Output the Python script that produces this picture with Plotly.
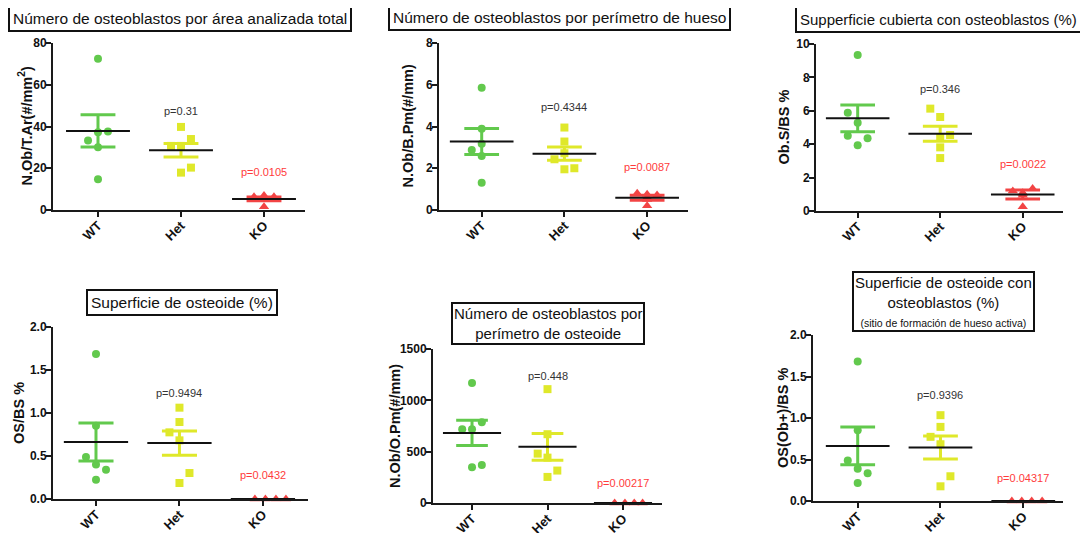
import plotly.graph_objects as go

groups = ["WT", "Het", "KO"]

# ---- data ----
p1_wt = [72.5, 37.3, 33.3, 37.6, 30.1, 14.7]
p1_het = [39.8, 34.0, 30.7, 30.7, 20.3, 17.9]
p1_ko = [6.3, 6.9, 6.3, 5.6, 5.2, 1.6]
p1_mean = [37.9, 28.6, 5.3]
p1_sem = [7.7, 3.2, 0.9]
p1_pval = ["p=0.31", "p=0.0105"]
p1_py = [47.5, 18.4]

p2_wt = [5.86, 3.89, 2.88, 3.17, 2.59, 1.31]
p2_het = [3.95, 3.28, 2.72, 2.43, 1.95, 2.0]
p2_ko = [0.8, 0.75, 0.72, 0.6, 0.5, 0.2]
p2_mean = [3.28, 2.70, 0.59]
p2_sem = [0.62, 0.32, 0.12]
p2_pval = ["p=0.4344", "p=0.0087"]
p2_py = [4.93, 2.05]

p3_wt = [9.34, 5.89, 5.29, 4.51, 4.35, 3.93]
p3_het = [6.13, 5.63, 4.55, 4.41, 3.81, 3.17]
p3_ko = [1.2, 1.1, 1.35, 1.05, 0.95, 0.25]
p3_mean = [5.55, 4.63, 0.99]
p3_sem = [0.8, 0.45, 0.27]
p3_pval = ["p=0.346", "p=0.0022"]
p3_py = [7.29, 2.79]

p4_wt = [1.686, 0.853, 0.488, 0.40, 0.341, 0.225]
p4_het = [1.062, 0.895, 0.775, 0.682, 0.302, 0.186]
p4_ko = [0, 0, 0, 0]
p4_mean = [0.663, 0.651, 0]
p4_sem = [0.222, 0.141, 0]
p4_pval = ["p=0.9494", "p=0.0432"]
p4_py = [1.233, 0.283]

p5_wt = [1168, 787, 719, 719, 371, 348]
p5_het = [1109, 670, 481, 442, 316, 254]
p5_ko = [0, 0, 0, 0]
p5_mean = [683, 547, 0]
p5_sem = [123, 130, 0]
p5_pval = ["p=0.448", "p=0.00217"]
p5_py = [1237, 195]

p6_wt = [1.682, 0.853, 0.487, 0.39, 0.334, 0.217]
p6_het = [1.034, 0.893, 0.773, 0.684, 0.298, 0.177]
p6_ko = [0, 0, 0, 0]
p6_mean = [0.664, 0.644, 0]
p6_sem = [0.227, 0.139, 0]
p6_pval = ["p=0.9396", "p=0.04317"]
p6_py = [1.276, 0.278]

titles = [
    "Número de osteoblastos por área analizada total",
    "Número de osteoblastos por perímetro de hueso",
    "Supperficie cubierta con osteoblastos (%)",
    "Superficie de osteoide (%)",
    "Número de osteoblastos por<br>perímetro de osteoide",
    "Superficie de osteoide con<br>osteoblastos (%)<br><span style='font-size:10.5px'>(sitio de formación de hueso activa)</span>",
]
ytitles = [
    "N.Ob/T.Ar(#/mm<sup>2</sup>)",
    "N.Ob/B.Pm(#/mm)",
    "Ob.S/BS %",
    "OS/BS %",
    "N.Ob/O.Pm(#/mm)",
    "OS(Ob+)/BS %",
]

# ---- layout / style (not data) ----
OFF = 8                      # page body margin of the browser
W, H = 1088 - OFF, 533 - OFF
COLORS = ["#62c94d", "#dfe82a", "#f24444"]
SYMBOLS = ["circle", "square", "triangle-up"]
# plot area in target-page pixels: x0, x1, ytop, ybottom
boxes = [
    (53, 305, 43, 210), (439, 688, 43, 210), (816, 1063, 44, 211),
    (53, 308, 327, 499), (433, 662, 349, 503), (813, 1063, 335, 501),
]
xranges = [(-0.542, 2.494), (-0.516, 2.494), (-0.505, 2.488),
           (-0.515, 2.54), (-0.517, 2.517), (-0.54, 2.48)]
yranges = [(0, 80), (0, 8), (0, 10), (0, 2), (0, 1500), (0, 2)]
ydticks = [20, 2, 2, 0.5, 500, 0.5]
yformats = ["", "", "", ".1f", "", ".1f"]
title_pos = [(180, 18), (559, 17.5), (938, 19.5), (181.5, 302.5), (547.5, 323), (943.5, 301)]
title_size = [15.5, 15.5, 15, 15.5, 15, 15]
title_pad = [3, 3, 3, 3, 1, 1]
ytitle_x = [25, 407, 783, 19, 395, 783]
jit = [0.12, 0.12, 0.12, 0.12, 0.13, 0.12]
off_wt = [
    [0, 0, -1, 1, 0, 0], [0, 0, -1, 0, 0, 0], [0, -1, 0, -1, 1, 0],
    [0, 0, -1, 0, 1, 0], [0, 1, -1, 0, 1, 0], [0, 0, -1, 0, 1, 0],
]
off_het = [
    [0, 1, -1, 0, 1, 0], [0, 0, 0, -1, 0, 1], [-1, 0, 1, 0, 0, 0],
    [0, 0, -1, 0, 1, 0], [0, 0, -1, 0, 1, 0], [0, 0, -1, 0, 1, 0],
]
off_ko = [
    [-1, 0, 1, 0, 0, 0], [-1, 0, 1, 0, 0, 0], [-1, 0, 1, 0, 0, 0],
    [-0.8, 0.25, 1.3, 2.3], [-0.85, 0.2, 1.15, 2.0], [-1.15, -0.15, 0.85, 1.9],
]

panels = [
    (p1_wt, p1_het, p1_ko, p1_mean, p1_sem, p1_pval, p1_py),
    (p2_wt, p2_het, p2_ko, p2_mean, p2_sem, p2_pval, p2_py),
    (p3_wt, p3_het, p3_ko, p3_mean, p3_sem, p3_pval, p3_py),
    (p4_wt, p4_het, p4_ko, p4_mean, p4_sem, p4_pval, p4_py),
    (p5_wt, p5_het, p5_ko, p5_mean, p5_sem, p5_pval, p5_py),
    (p6_wt, p6_het, p6_ko, p6_mean, p6_sem, p6_pval, p6_py),
]


def px(x):
    return (x - OFF) / W


def py_(y):
    return 1 - (y - OFF) / H


FONT = "Liberation Sans, Arial, sans-serif"
fig = go.Figure()
annotations = []
layout = {}

for i, (wt, het, ko, mean, sem, pval, pvy) in enumerate(panels):
    n = i + 1
    xa = "x" if n == 1 else f"x{n}"
    ya = "y" if n == 1 else f"y{n}"
    x0, x1, yt, yb = boxes[i]
    layout[f"xaxis{'' if n == 1 else n}"] = dict(
        domain=[px(x0), px(x1)], anchor=ya, range=list(xranges[i]),
        tickmode="array", tickvals=[0, 1, 2], ticktext=groups, tickangle=-45,
        showline=True, linecolor="#1a1a1a", linewidth=2, ticks="outside",
        ticklen=5, tickwidth=2, tickcolor="#1a1a1a", showgrid=False, zeroline=False,
        tickfont=dict(family=FONT, size=13, color="#111", weight="bold"),
        ticklabelstandoff=-4,
        automargin=False, fixedrange=True,
    )
    layout[f"yaxis{'' if n == 1 else n}"] = dict(
        domain=[py_(yb), py_(yt)], anchor=xa, range=list(yranges[i]),
        dtick=ydticks[i], tick0=0, tickformat=yformats[i],
        showline=True, linecolor="#1a1a1a", linewidth=2, ticks="outside",
        ticklen=5, tickwidth=2, tickcolor="#1a1a1a", showgrid=False, zeroline=False,
        tickfont=dict(family=FONT, size=12, color="#111", weight="bold"),
        ticklabelstandoff=-3,
        automargin=False, fixedrange=True,
    )
    series = [wt, het, ko]
    offs = [off_wt[i], off_het[i], off_ko[i]]
    for g in range(3):
        xs = [g + o * jit[i] for o in offs[g]]
        fig.add_trace(go.Scatter(
            x=xs, y=series[g], mode="markers", xaxis=xa, yaxis=ya,
            marker=dict(symbol=SYMBOLS[g], color=COLORS[g], size=8 if g < 2 else 9,
                        line=dict(width=0)),
            showlegend=False, hoverinfo="skip", cliponaxis=False,
        ))
    # SEM bars
    for g in range(3):
        if sem[g] <= 0:
            continue
        lo, hi = mean[g] - sem[g], mean[g] + sem[g]
        cw = 0.21
        fig.add_trace(go.Scatter(
            x=[g, g, None, g - cw, g + cw, None, g - cw, g + cw],
            y=[lo, hi, None, hi, hi, None, lo, lo],
            mode="lines", line=dict(color=COLORS[g], width=3),
            xaxis=xa, yaxis=ya, showlegend=False, hoverinfo="skip",
        ))
    # mean lines
    mw = 0.385
    mx, my = [], []
    for g in range(3):
        mx += [g - mw, g + mw, None]
        my += [mean[g], mean[g], None]
    fig.add_trace(go.Scatter(
        x=mx, y=my, mode="lines", line=dict(color="#111", width=2),
        xaxis=xa, yaxis=ya, showlegend=False, hoverinfo="skip", cliponaxis=False,
    ))
    # p-values
    for k, g in enumerate([1, 2]):
        annotations.append(dict(
            x=g, y=pvy[k], xref=xa, yref=ya, text=pval[k], showarrow=False,
            font=dict(family=FONT, size=11, color="#333" if g == 1 else "#ff3b3b"),
        ))
    # y-axis titles
    annotations.append(dict(
        x=px(ytitle_x[i]), y=py_((yt + yb) / 2), xref="paper", yref="paper",
        text="<b>" + ytitles[i] + "</b>", textangle=-90, showarrow=False,
        xanchor="center", yanchor="middle",
        font=dict(family=FONT, size=14.5, color="#111"),
    ))
    # title boxes
    tx, ty = title_pos[i]
    annotations.append(dict(
        x=px(tx), y=py_(ty), xref="paper", yref="paper", text=titles[i],
        showarrow=False, xanchor="center", yanchor="middle",
        font=dict(family=FONT, size=title_size[i], color="#111"),
        bordercolor="#111", borderwidth=2, borderpad=title_pad[i], bgcolor="white",
        align="center",
    ))

fig.update_layout(
    width=W, height=H, margin=dict(l=0, r=0, t=0, b=0),
    paper_bgcolor="white", plot_bgcolor="white",
    annotations=annotations, **layout,
)
fig.write_html("out.html")
